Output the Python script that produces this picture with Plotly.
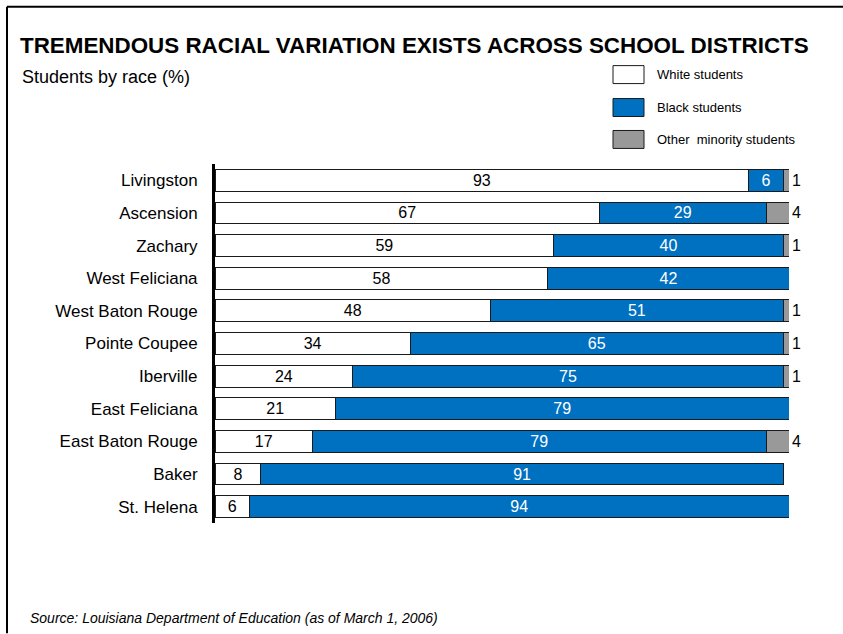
import plotly.graph_objects as go

# School district racial composition (% of students)
districts = ["Livingston", "Ascension", "Zachary", "West Feliciana", "West Baton Rouge",
             "Pointe Coupee", "Iberville", "East Feliciana", "East Baton Rouge", "Baker", "St. Helena"]
white = [93, 67, 59, 58, 48, 34, 24, 21, 17, 8, 6]
black = [6, 29, 40, 42, 51, 65, 75, 79, 79, 91, 94]
other = [1, 4, 1, 0, 1, 1, 1, 0, 4, 0, 0]

W, H = 843, 634
L, R, T, B = 215, 789, 163.6, 523.4

FONT = "Liberation Sans, Arial, sans-serif"
BLUE = "#0070C0"
GRAY = "#999999"
EDGE = "#1a1a1a"


def px(x):
    return (x - L) / (R - L)


def py(y):
    return (B - y) / (B - T)


def labels(vals):
    return [str(v) if v > 0 else "" for v in vals]


fig = go.Figure()
fig.add_trace(go.Bar(
    y=districts, x=white, orientation="h", name="White students",
    marker=dict(color="white", line=dict(color=EDGE, width=1)),
    text=labels(white), textposition="inside", insidetextanchor="middle",
    textfont=dict(family=FONT, size=16, color="black"), textangle=0,
    constraintext="none",
))
fig.add_trace(go.Bar(
    y=districts, x=black, orientation="h", name="Black students",
    marker=dict(color=BLUE, line=dict(color=EDGE, width=1)),
    text=labels(black), textposition="inside", insidetextanchor="middle",
    textfont=dict(family=FONT, size=16, color="white"), textangle=0,
    constraintext="none",
))
fig.add_trace(go.Bar(
    y=districts, x=other, orientation="h", name="Other minority students",
    marker=dict(color=GRAY, line=dict(color=EDGE, width=1)),
    text=labels(other), textposition="outside",
    textfont=dict(family=FONT, size=16, color="black"), textangle=0,
    constraintext="none", cliponaxis=False,
))

shapes = [
    # frame lines along top and left edges
    dict(type="line", xref="paper", yref="paper", x0=px(7), x1=px(843), y0=py(6), y1=py(6),
         line=dict(color="black", width=2)),
    dict(type="line", xref="paper", yref="paper", x0=px(7), x1=px(7), y0=py(6), y1=py(634),
         line=dict(color="black", width=2)),
]
annotations = [
    dict(text="<b>TREMENDOUS RACIAL VARIATION EXISTS ACROSS SCHOOL DISTRICTS</b>",
         xref="paper", yref="paper", x=px(18), y=py(45), xanchor="left", yanchor="middle",
         showarrow=False, font=dict(family=FONT, size=22.4, color="black")),
    dict(text="Students by race (%)", xref="paper", yref="paper", x=px(20), y=py(76),
         xanchor="left", yanchor="middle", showarrow=False,
         font=dict(family=FONT, size=18, color="black")),
    dict(text="<i>Source: Louisiana Department of Education (as of March 1, 2006)</i>",
         xref="paper", yref="paper", x=px(28), y=py(619), xanchor="left", yanchor="middle",
         showarrow=False, font=dict(family=FONT, size=14, color="black")),
]

# legend swatches and labels
legend_items = [("White students", "white", 74), ("Black students", BLUE, 107),
                ("Other  minority students", GRAY, 139)]
for name, color, yc in legend_items:
    shapes.append(dict(type="rect", xref="paper", yref="paper",
                       x0=px(613), x1=px(644), y0=py(yc - 9), y1=py(yc + 9),
                       fillcolor=color, line=dict(color=EDGE, width=1)))
    annotations.append(dict(text=name, xref="paper", yref="paper", x=px(655), y=py(yc),
                            xanchor="left", yanchor="middle", showarrow=False,
                            font=dict(family=FONT, size=13, color="black")))

fig.update_layout(
    width=W, height=H, barmode="stack", bargap=0.33,
    margin=dict(l=L, r=W - R, t=T, b=H - B, pad=0),
    paper_bgcolor="white", plot_bgcolor="white", showlegend=False,
    shapes=shapes, annotations=annotations,
    xaxis=dict(range=[0, 100], visible=False, fixedrange=True),
    yaxis=dict(range=[10.5, -0.5], showgrid=False, zeroline=False,
               showline=True, linecolor="black", linewidth=3,
               ticks="", ticklabelstandoff=11,
               tickfont=dict(family=FONT, size=17, color="black")),
    font=dict(family=FONT),
)

fig.write_html("out.html")
